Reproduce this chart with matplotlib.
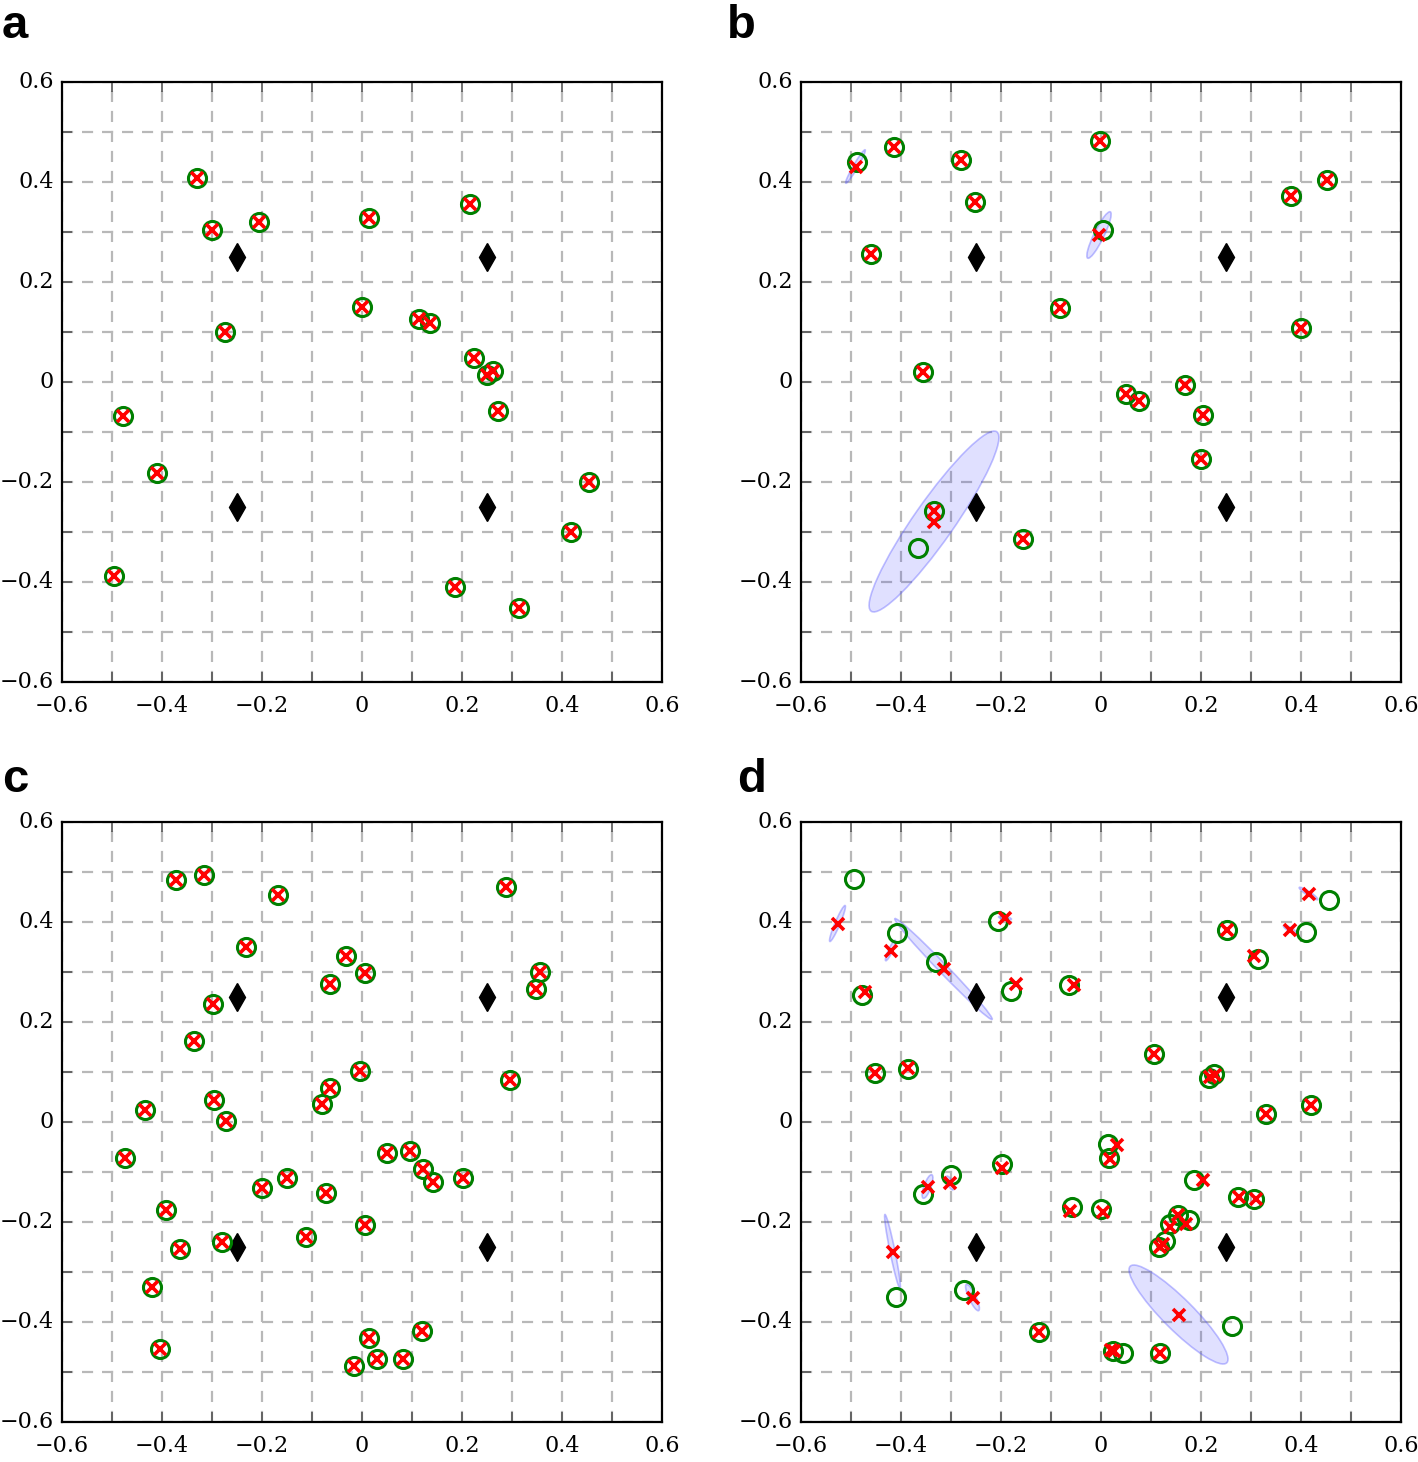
import numpy as np
import matplotlib
matplotlib.use("Agg")
import matplotlib.pyplot as plt
from matplotlib.patches import Ellipse

# ---------------- data ----------------
diamond_x = [-0.25, -0.25, 0.25, 0.25]
diamond_y = [-0.25, 0.25, -0.25, 0.25]

tick_vals = [-0.6, -0.5, -0.4, -0.3, -0.2, -0.1, 0.0, 0.1, 0.2, 0.3, 0.4, 0.5, 0.6]
tick_labels = ["\u22120.6", "", "\u22120.4", "", "\u22120.2", "", "0", "", "0.2", "", "0.4", "", "0.6"]
panel_letters = ["a", "b", "c", "d"]

# panel a
a_circ_x = [-0.330, -0.300, -0.206, -0.274, 0.014, 0.216, 0.000, 0.114, 0.136, 0.224, 0.250, 0.262,
            0.272, -0.478, -0.410, -0.496, 0.454, 0.418, 0.186, 0.314]
a_circ_y = [0.408, 0.304, 0.320, 0.100, 0.328, 0.356, 0.150, 0.126, 0.118, 0.048, 0.014, 0.022,
            -0.058, -0.068, -0.182, -0.388, -0.200, -0.300, -0.410, -0.452]
a_cross_x = list(a_circ_x)
a_cross_y = list(a_circ_y)
a_ell_x, a_ell_y, a_ell_w, a_ell_h, a_ell_ang = [], [], [], [], []

# panel b
b_circ_x = [-0.488, -0.415, -0.281, -0.252, -0.003, -0.461, 0.003, -0.082, -0.357, 0.451, 0.379,
            0.399, 0.050, 0.075, 0.168, 0.203, 0.200, -0.156, -0.334, -0.366]
b_circ_y = [0.440, 0.471, 0.444, 0.361, 0.483, 0.257, 0.304, 0.149, 0.021, 0.405, 0.373,
            0.109, -0.023, -0.037, -0.005, -0.066, -0.154, -0.314, -0.258, -0.332]
b_cross_x = [-0.491, -0.415, -0.281, -0.252, -0.003, -0.461, -0.004, -0.082, -0.357, 0.451, 0.379,
             0.399, 0.050, 0.075, 0.168, 0.203, 0.200, -0.156, -0.334, -0.334]
b_cross_y = [0.431, 0.471, 0.444, 0.361, 0.483, 0.257, 0.294, 0.149, 0.021, 0.405, 0.373,
             0.109, -0.023, -0.037, -0.005, -0.066, -0.154, -0.314, -0.258, -0.279]
b_ell_x = [-0.491, -0.004, -0.334]
b_ell_y = [0.431, 0.294, -0.279]
b_ell_w = [0.077, 0.103, 0.438]
b_ell_h = [0.009, 0.020, 0.080]
b_ell_ang = [60, 64, 55]

# panel c
c_circ_x = [-0.372, -0.316, -0.168, -0.232, -0.032, -0.064, 0.006, -0.298, -0.336, -0.004, -0.064,
            -0.080, -0.296, -0.272, -0.434, -0.474, -0.392, -0.364, -0.280, -0.200, -0.150, -0.072,
            -0.112, 0.006, 0.050, 0.096, 0.122, 0.142, 0.202, -0.420, -0.404, 0.014, 0.030, -0.016,
            0.082, 0.120, 0.288, 0.356, 0.348, 0.296]
c_circ_y = [0.484, 0.494, 0.454, 0.350, 0.332, 0.276, 0.298, 0.236, 0.162, 0.102, 0.068,
            0.036, 0.044, 0.002, 0.024, -0.072, -0.176, -0.254, -0.240, -0.132, -0.112, -0.142,
            -0.230, -0.206, -0.062, -0.058, -0.094, -0.120, -0.112, -0.330, -0.454, -0.432, -0.474, -0.488,
            -0.474, -0.418, 0.470, 0.300, 0.266, 0.084]
c_cross_x = list(c_circ_x)
c_cross_y = list(c_circ_y)
c_ell_x, c_ell_y, c_ell_w, c_ell_h, c_ell_ang = [], [], [], [], []

# panel d
d_circ_x = [-0.495, -0.409, -0.330, -0.479, -0.452, -0.387, -0.207, -0.181, -0.065, 0.455, 0.409,
            0.251, 0.313, 0.106, 0.215, 0.225, 0.330, 0.419, 0.013, 0.015, 0.186, 0.273, 0.306,
            -0.001, -0.058, 0.153, 0.175, 0.137, 0.128, 0.115, -0.199, -0.301, -0.357, -0.411,
            -0.274, -0.125, 0.261, 0.023, 0.043, 0.118]
d_circ_y = [0.487, 0.378, 0.321, 0.255, 0.098, 0.107, 0.403, 0.263, 0.274, 0.444, 0.380,
            0.384, 0.326, 0.136, 0.089, 0.096, 0.016, 0.035, -0.043, -0.071, -0.116, -0.149, -0.154,
            -0.174, -0.169, -0.185, -0.195, -0.204, -0.237, -0.249, -0.083, -0.105, -0.144, -0.349,
            -0.335, -0.419, -0.407, -0.457, -0.461, -0.461]
d_cross_x = [-0.527, -0.421, -0.315, -0.472, -0.452, -0.387, -0.192, -0.170, -0.055, 0.415, 0.378,
             0.251, 0.306, 0.106, 0.218, 0.228, 0.330, 0.419, 0.031, 0.017, 0.203, 0.275, 0.310,
             0.003, -0.063, 0.153, 0.170, 0.138, 0.123, 0.118, -0.199, -0.302, -0.347, -0.417,
             -0.257, -0.125, 0.155, 0.020, 0.026, 0.118]
d_cross_y = [0.397, 0.343, 0.306, 0.261, 0.098, 0.108, 0.408, 0.277, 0.275, 0.457, 0.385,
             0.384, 0.333, 0.136, 0.091, 0.095, 0.016, 0.035, -0.045, -0.073, -0.115, -0.149, -0.154,
             -0.180, -0.177, -0.186, -0.204, -0.209, -0.244, -0.249, -0.091, -0.122, -0.129, -0.259,
             -0.351, -0.419, -0.385, -0.456, -0.458, -0.461]
d_ell_x = [-0.527, -0.421, -0.315, -0.192, 0.415, 0.378, -0.302, -0.347, -0.417, -0.257, 0.155]
d_ell_y = [0.397, 0.343, 0.306, 0.408, 0.457, 0.385, -0.122, -0.129, -0.259, -0.351, -0.385]
d_ell_w = [0.078, 0.045, 0.280, 0.026, 0.044, 0.030, 0.030, 0.050, 0.151, 0.058, 0.273]
d_ell_h = [0.010, 0.008, 0.018, 0.006, 0.008, 0.008, 0.010, 0.014, 0.010, 0.014, 0.062]
d_ell_ang = [67, 65, -46, -10, -33, -30, -66, 70, -78.5, -65, -45]

panels = [
    (a_circ_x, a_circ_y, a_cross_x, a_cross_y, a_ell_x, a_ell_y, a_ell_w, a_ell_h, a_ell_ang),
    (b_circ_x, b_circ_y, b_cross_x, b_cross_y, b_ell_x, b_ell_y, b_ell_w, b_ell_h, b_ell_ang),
    (c_circ_x, c_circ_y, c_cross_x, c_cross_y, c_ell_x, c_ell_y, c_ell_w, c_ell_h, c_ell_ang),
    (d_circ_x, d_circ_y, d_cross_x, d_cross_y, d_ell_x, d_ell_y, d_ell_w, d_ell_h, d_ell_ang),
]

# ---------------- figure ----------------
W, H = 1418, 1462
fig = plt.figure(figsize=(W / 100, H / 100), dpi=100)

axes_px = [(62, 82), (801, 82), (62, 822), (801, 822)]  # left, top in pixels
size_px = 600
letter_px = [(2, 38), (727, 38), (2, 792), (737, 792)]

for i, (cx, cy, xx, xy, ex, ey, ew, eh, ea) in enumerate(panels):
    l, t = axes_px[i]
    ax = fig.add_axes([l / W, 1 - (t + size_px) / H, size_px / W, size_px / H])
    ax.set_xlim(-0.6, 0.6)
    ax.set_ylim(-0.6, 0.6)
    ax.set_xticks(tick_vals)
    ax.set_yticks(tick_vals)
    ax.set_xticklabels(tick_labels, family="DejaVu Serif", fontsize=16)
    ax.set_yticklabels(tick_labels, family="DejaVu Serif", fontsize=16, va="center")
    ax.tick_params(direction="in", length=7, width=1.2, color="#555555",
                   top=True, right=True)
    ax.tick_params(axis="x", pad=9.5)
    ax.tick_params(axis="y", pad=6)
    ax.grid(True, color="#b8b8b8", linestyle=(0, (5, 4)), linewidth=1.6)
    ax.set_axisbelow(True)
    for s in ax.spines.values():
        s.set_linewidth(1.6)
        s.set_color("black")

    for k in range(len(ex)):
        ax.add_patch(Ellipse((ex[k], ey[k]), ew[k], eh[k], angle=ea[k],
                             facecolor=(0.2, 0.2, 1.0, 0.15),
                             edgecolor=(0.3, 0.3, 1.0, 0.35), linewidth=1.2, zorder=2))

    ax.plot(diamond_x, diamond_y, linestyle="none", marker="d", color="black",
            markersize=14, zorder=3)
    ax.plot(cx, cy, linestyle="none", marker="o", markerfacecolor="none",
            markeredgecolor="green", markeredgewidth=2.2, markersize=13, zorder=4)
    ax.plot(xx, xy, linestyle="none", marker="x", color="red",
            markeredgewidth=2.6, markersize=9, zorder=5)

    lx, ly = letter_px[i]
    fig.text(lx / W, 1 - ly / H, panel_letters[i], fontsize=34, fontweight="bold",
             family="Liberation Sans", ha="left", va="baseline")

fig.savefig("out.png", dpi=100)
